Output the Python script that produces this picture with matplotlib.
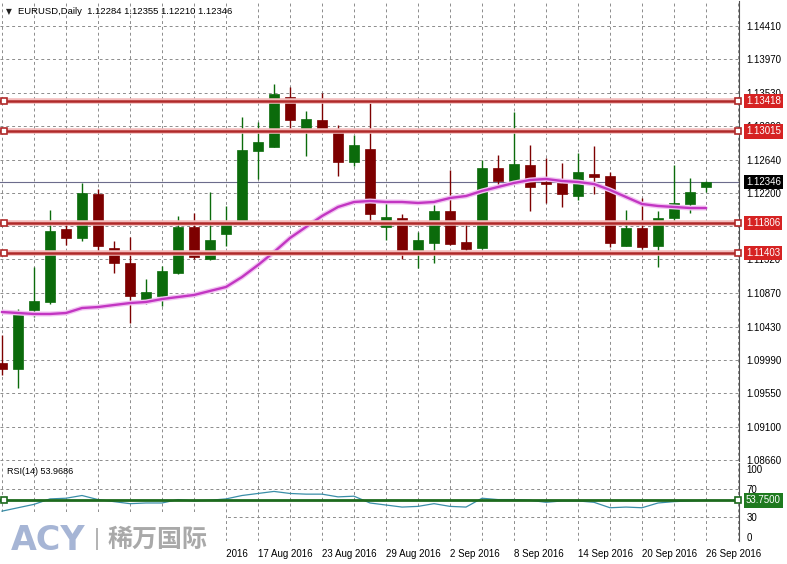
import matplotlib
matplotlib.use("Agg")
import matplotlib.pyplot as plt
from matplotlib.patches import Rectangle
from matplotlib.transforms import blended_transform_factory

# ---------------- data ----------------
dates = ["26 Jul 2016", "27 Jul", "28 Jul", "29 Jul", "1 Aug 2016", "2 Aug", "3 Aug", "4 Aug",
         "5 Aug 2016", "8 Aug", "9 Aug", "10 Aug", "11 Aug 2016", "12 Aug", "15 Aug", "16 Aug",
         "17 Aug 2016", "18 Aug", "19 Aug", "22 Aug", "23 Aug 2016", "24 Aug", "25 Aug", "26 Aug",
         "29 Aug 2016", "30 Aug", "31 Aug", "1 Sep", "2 Sep 2016", "5 Sep", "6 Sep", "7 Sep",
         "8 Sep 2016", "9 Sep", "12 Sep", "13 Sep", "14 Sep 2016", "15 Sep", "16 Sep", "19 Sep",
         "20 Sep 2016", "21 Sep", "22 Sep", "23 Sep", "26 Sep 2016"]

opens = [1.09947, 1.09867, 1.10649, 1.10755, 1.11722, 1.11603, 1.12186, 1.11470, 1.11272, 1.10755,
         1.10834, 1.11139, 1.11749, 1.11325, 1.11656, 1.11802, 1.12756, 1.12809, 1.13471, 1.13034,
         1.13166, 1.13034, 1.12610, 1.12782, 1.11749, 1.11868, 1.11404, 1.11537, 1.11961, 1.11550,
         1.11470, 1.12530, 1.12358, 1.12570, 1.12345, 1.12332, 1.12159, 1.12451, 1.12424, 1.11497,
         1.11735, 1.11497, 1.11868, 1.12053, 1.12284]
highs = [1.10318, 1.10662, 1.11219, 1.11974, 1.11841, 1.12332, 1.12252, 1.11563, 1.11616, 1.11060,
         1.11232, 1.11894, 1.11934, 1.12212, 1.12027, 1.13206, 1.13140, 1.13643, 1.13604, 1.13286,
         1.13524, 1.13100, 1.12968, 1.13392, 1.12080, 1.11921, 1.11682, 1.12040, 1.12504, 1.11802,
         1.12636, 1.12703, 1.13272, 1.12835, 1.12663, 1.12597, 1.12729, 1.12822, 1.12477, 1.11974,
         1.12133, 1.11961, 1.12570, 1.12398, 1.12355]
lows = [1.09788, 1.09615, 1.10556, 1.10728, 1.11510, 1.11563, 1.11417, 1.11139, 1.10477, 1.10728,
        1.10702, 1.11126, 1.11325, 1.11311, 1.11497, 1.11788, 1.12385, 1.12809, 1.13007, 1.12689,
        1.13007, 1.12424, 1.12557, 1.11802, 1.11576, 1.11325, 1.11205, 1.11272, 1.11510, 1.11391,
        1.11457, 1.12265, 1.12345, 1.11961, 1.12067, 1.12014, 1.12106, 1.12186, 1.11484, 1.11497,
        1.11457, 1.11219, 1.11815, 1.11934, 1.12210]
closes = [1.09867, 1.10596, 1.10768, 1.11696, 1.11603, 1.12199, 1.11497, 1.11272, 1.10834, 1.10887,
          1.11166, 1.11749, 1.11351, 1.11576, 1.11802, 1.12769, 1.12875, 1.13511, 1.13166, 1.13180,
          1.13021, 1.12610, 1.12835, 1.11921, 1.11881, 1.11404, 1.11576, 1.11961, 1.11523, 1.11457,
          1.12530, 1.12358, 1.12583, 1.12279, 1.12318, 1.12186, 1.12477, 1.12411, 1.11537, 1.11735,
          1.11484, 1.11868, 1.12067, 1.12212, 1.12346]
ma = [1.10622, 1.10609, 1.10596, 1.10596, 1.10609, 1.10675, 1.10688, 1.10715, 1.10741, 1.10755,
      1.10794, 1.10821, 1.10848, 1.10901, 1.10954, 1.11086, 1.11245, 1.11417, 1.11603, 1.11749,
      1.11894, 1.12014, 1.12080, 1.12093, 1.12080, 1.12080, 1.12067, 1.12080, 1.12133, 1.12159,
      1.12226, 1.12279, 1.12332, 1.12371, 1.12385, 1.12358, 1.12345, 1.12318, 1.12239, 1.12146,
      1.12053, 1.12027, 1.12014, 1.12000, 1.12000]
rsi = [38, 43, 48, 56, 57, 61, 55, 52, 49, 50, 50, 55, 53, 54, 56, 61, 64, 67, 64, 63, 63, 59, 60,
       50, 47, 44, 45, 49, 45, 44, 57, 55, 55, 54, 51, 53, 53, 51, 43, 44, 43, 50, 52, 53, 53.9686]

levels = [1.13418, 1.13015, 1.11806, 1.11403]
current_price = 1.12346
rsi_level = 53.75
price_ticks = [1.14410, 1.13970, 1.13530, 1.13090, 1.12640, 1.12200, 1.11760, 1.11320,
               1.10870, 1.10430, 1.09990, 1.09550, 1.09100, 1.08660]
rsi_ticks = [0, 30, 70, 100]
title_text = "EURUSD,Daily  1.12284 1.12355 1.12210 1.12346"
rsi_title = "RSI(14) 53.9686"

# ---------------- layout ----------------
W, H = 787, 564
fig = plt.figure(figsize=(W / 100, H / 100), dpi=100)
fig.patch.set_facecolor("white")

def rect(x0, y0, x1, y1):
    return [x0 / W, 1 - y1 / H, (x1 - x0) / W, (y1 - y0) / H]

ax = fig.add_axes(rect(0, 1, 739, 461))
axr = fig.add_axes(rect(0, 463, 739, 541), sharex=ax)

GREEN = "#0b6b0b"
RED = "#7d0000"
GRID = "#8c8c8c"
n = len(opens)
xs = list(range(n))
xl = (-0.125, 46.06)

for a in (ax, axr):
    for s in ("left", "top", "bottom"):
        a.spines[s].set_visible(False)
    a.spines["right"].set_color("#505050")
    a.spines["right"].set_linewidth(0.8)
    a.set_facecolor("white")
    a.yaxis.tick_right()
    a.tick_params(axis="both", length=0, labelsize=7, colors="black")
    a.set_xticks(list(range(0, 47, 2)))
    a.grid(True, axis="x", ls=(0, (3, 3)), color=GRID, lw=0.7)

ax.set_xlim(*xl)
ax.set_ylim(1.08648, 1.14743)
ax.set_yticks(price_ticks)
ax.set_yticklabels([f"{v:.5f}" for v in price_ticks], fontfamily="Liberation Sans")
ax.tick_params(axis="y", pad=5.5)
ax.grid(True, axis="y", ls=(0, (3, 3)), color=GRID, lw=0.7)
ax.tick_params(axis="x", labelbottom=False)

# candles
for i in xs:
    o, h, l, c = opens[i], highs[i], lows[i], closes[i]
    col = GREEN if c >= o else RED
    ax.vlines(i, l, h, color=col, lw=1.0, zorder=3)
    body = max(abs(c - o), 0.00018)
    ax.bar(i, body, bottom=min(o, c), width=0.625, color=col, edgecolor=col, lw=0.5, zorder=4)

# moving average
ax.plot(xs, ma, color="#f2c4f2", lw=3.6, zorder=5, solid_capstyle="butt")
ax.plot(xs, ma, color="#c236c2", lw=1.7, zorder=6)

# current price line
ax.axhline(current_price, color="#6c6c8c", lw=0.8, zorder=2)

# support / resistance lines
trans = blended_transform_factory(ax.transAxes, ax.transData)
for v in levels:
    ax.axhline(v, color="#f3bcbc", lw=4.0, zorder=6.5)
    ax.axhline(v, color="#b02a2a", lw=1.8, zorder=7)
    ax.plot([0.1, 46.0], [v, v], ls="none", marker="s", ms=4, mfc="white", mec="#b02a2a",
            mew=1.2, zorder=8, clip_on=False)
    ax.text(1.0095, v, f"{v:.5f}", transform=trans, ha="left", va="center", fontsize=7,
            fontfamily="Liberation Sans", color="white", zorder=10,
            bbox=dict(boxstyle="square,pad=0.22", fc="#d62222", ec="none"))

ax.text(1.0095, current_price, f"{current_price:.5f}", transform=trans, ha="left", va="center",
        fontsize=7, fontfamily="Liberation Sans", color="white", zorder=10,
        bbox=dict(boxstyle="square,pad=0.22", fc="black", ec="none"))

# ---------------- RSI panel ----------------
axr.set_ylim(-5.9, 108.8)
axr.set_yticks(rsi_ticks)
axr.set_yticklabels([str(t) for t in rsi_ticks], fontfamily="Liberation Sans")
axr.tick_params(axis="y", pad=5.5)
for lv in (30, 70):
    axr.axhline(lv, ls=(0, (3, 3)), color=GRID, lw=0.7, zorder=1)
axr.plot(xs, rsi, color="#3a8ea8", lw=0.9, zorder=3)
axr.axhline(rsi_level, color="#1d6a1d", lw=2.0, zorder=4)
axr.plot([0.1, 46.0], [rsi_level, rsi_level], ls="none", marker="s", ms=4, mfc="white",
         mec="#1d6a1d", mew=1.2, zorder=5, clip_on=False)
transr = blended_transform_factory(axr.transAxes, axr.transData)
axr.text(1.0095, rsi_level, "53.7500", transform=transr, ha="left", va="center", fontsize=7,
         fontfamily="Liberation Sans", color="white", zorder=10,
         bbox=dict(boxstyle="square,pad=0.22", fc="#1f7a1f", ec="none"))

tick_pos = list(range(0, 47, 2))
tick_lab = [dates[i] if (i % 4 == 0 and 12 <= i < n) else "" for i in tick_pos]
axr.set_xticks(tick_pos)
axr.set_xticklabels(tick_lab, ha="left", fontfamily="Liberation Sans", fontsize=7)
axr.tick_params(axis="x", pad=6)
axr.set_xlim(*xl)

# titles
fig.text(6 / W, 1 - 12 / H, "\u25BC", fontsize=5.5, va="center", ha="left", color="#202020")
fig.text(18 / W, 1 - 12 / H, title_text, fontsize=6.8, va="center", ha="left",
         fontfamily="Liberation Sans", color="black")
fig.text(7 / W, 1 - 472 / H, rsi_title, fontsize=6.5, va="center", ha="left",
         fontfamily="Liberation Sans", color="black")

# watermark
fig.patches.append(Rectangle((0, 0), 226 / W, (H - 512) / H, transform=fig.transFigure,
                             fc="white", ec="none", zorder=5))
fig.text(11 / W, 1 - 540 / H, "ACY", fontsize=24, fontweight="bold", color="#a6b5d5",
         va="center", ha="left", zorder=6, fontfamily="DejaVu Sans")
fig.patches.append(Rectangle((96 / W, 1 - 550 / H), 2 / W, 22 / H, transform=fig.transFigure,
                             fc="#b4b4b4", ec="none", zorder=6))
fig.text(107 / W, 1 - 540 / H, "稀万国际", fontsize=18, fontweight="bold", color="#a9a9a9",
         va="center", ha="left", zorder=6, fontfamily=["Noto Sans CJK SC", "DejaVu Sans"])

fig.savefig("out.png", dpi=100, facecolor="white")
